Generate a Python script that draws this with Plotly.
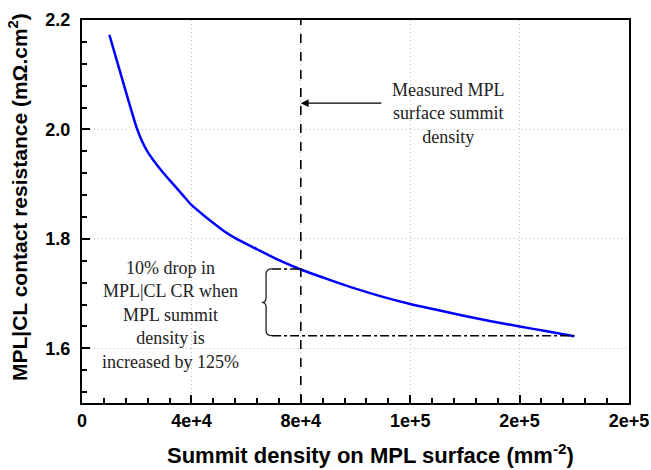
import plotly.graph_objects as go

# ---- data ----
summit_density = [10000, 12500, 15000, 17500, 20000, 22000, 24000, 26500, 30000, 33500,
                  37000, 40000, 44000, 48000, 52000, 56500, 64000, 72000, 80000, 90000,
                  100000, 110000, 120000, 130000, 140000, 150000, 160000, 170000, 180000]
contact_resistance = [2.173, 2.130, 2.087, 2.044, 2.003, 1.978, 1.959, 1.941, 1.919, 1.899,
                      1.879, 1.862, 1.845, 1.829, 1.814, 1.800, 1.781, 1.761, 1.744, 1.726,
                      1.709, 1.694, 1.681, 1.670, 1.659, 1.649, 1.640, 1.631, 1.622]

x_tickvals = [0, 40000, 80000, 120000, 160000, 200000]
x_ticktext = ["0", "4e+4", "8e+4", "1e+5", "2e+5", "2e+5"]
y_tickvals = [1.6, 1.8, 2.0, 2.2]
y_ticktext = ["1.6", "1.8", "2.0", "2.2"]

measured_density = 80000
cr_measured = 1.745
cr_end = contact_resistance[-1] + 0.001
density_end = summit_density[-1]

# brace location (data units)
brace_stem_x = 67300
brace_tip_x = 65800
brace_end_x = 69500

serif = "Liberation Serif"
sans = "Liberation Sans"

fig = go.Figure()
fig.add_trace(go.Scatter(x=summit_density, y=contact_resistance, mode="lines",
                         line=dict(color="#0000ff", width=2.5, shape="spline", smoothing=0.6),
                         showlegend=False, hoverinfo="skip"))

shapes = []
shapes.append(dict(type="line", xref="x", yref="paper", x0=measured_density, x1=measured_density,
                   y0=0, y1=1, line=dict(color="black", width=1.6, dash="dash")))
shapes.append(dict(type="line", xref="x", yref="y", x0=brace_end_x, x1=measured_density,
                   y0=cr_measured, y1=cr_measured, line=dict(color="black", width=1.6, dash="dashdot")))
shapes.append(dict(type="line", xref="x", yref="y", x0=brace_end_x, x1=density_end,
                   y0=cr_end, y1=cr_end, line=dict(color="black", width=1.6, dash="dashdot")))
ym = (cr_measured + cr_end) / 2
r = 0.009
path = (f"M {brace_end_x},{cr_measured} Q {brace_stem_x},{cr_measured} {brace_stem_x},{cr_measured - r} "
        f"L {brace_stem_x},{ym + r} Q {brace_stem_x},{ym} {brace_tip_x},{ym} "
        f"Q {brace_stem_x},{ym} {brace_stem_x},{ym - r} "
        f"L {brace_stem_x},{cr_end + r} Q {brace_stem_x},{cr_end} {brace_end_x},{cr_end}")
shapes.append(dict(type="path", xref="x", yref="y", path=path, line=dict(color="#222", width=1.3)))

annotations = []
annotations.append(dict(x=measured_density, y=2.048, ax=110000, ay=2.048, xref="x", yref="y",
                        axref="x", ayref="y", text="", showarrow=True, arrowhead=2,
                        arrowsize=1.2, arrowwidth=1.3, arrowcolor="black"))
annotations.append(dict(x=134000, y=2.030, xref="x", yref="y", showarrow=False,
                        text="Measured MPL<br>surface summit<br>density",
                        font=dict(family=serif, size=18, color="#222"), align="center"))
annotations.append(dict(x=32200, y=1.661, xref="x", yref="y", showarrow=False,
                        text="10% drop in<br>MPL|CL CR when<br>MPL summit<br>density is<br>increased by 125%",
                        font=dict(family=serif, size=18, color="#222"), align="center"))

L, R, T, B = 82, 22, 20, 67
W, H = 651, 470
pw, ph = W - L - R, H - T - B

def px_to_paper(xp, yp):
    return (xp - L) / pw, 1 - (yp - T) / ph

tx, ty = px_to_paper(370, 454)
annotations.append(dict(x=tx, y=ty, xref="paper", yref="paper", showarrow=False,
                        xanchor="center", yanchor="middle",
                        text="Summit density on MPL surface (mm<sup>-2</sup>)",
                        font=dict(family=sans, size=22, color="black", weight="bold")))
tx, ty = px_to_paper(18, 197)
annotations.append(dict(x=tx, y=ty, xref="paper", yref="paper", showarrow=False,
                        xanchor="center", yanchor="middle",
                        text="MPL|CL contact resistance (mΩ.cm<sup>2</sup>)", textangle=-90,
                        font=dict(family=sans, size=21, color="black", weight="bold")))

fig.update_layout(
    width=W, height=H, margin=dict(l=L, r=R, t=T, b=B, autoexpand=False),
    plot_bgcolor="white", paper_bgcolor="white",
    shapes=shapes, annotations=annotations, showlegend=False,
)
common = dict(ticks="inside", ticklen=8, tickwidth=2, tickcolor="black",
              showline=True, linecolor="black", linewidth=2, mirror=True,
              showgrid=True, gridcolor="#c0c0c0", griddash="1px,3px", gridwidth=1,
              zeroline=False, automargin=False,
              tickfont=dict(family=sans, size=18, color="black", weight="bold"))
fig.update_xaxes(range=[0, 200000], tickvals=x_tickvals, ticktext=x_ticktext,
                 minor=dict(dtick=8000, tick0=0, ticks="inside", ticklen=5, tickwidth=1.5,
                            tickcolor="black", showgrid=False),
                 ticklabelstandoff=0, **common)
fig.update_yaxes(range=[1.5, 2.2], tickvals=y_tickvals, ticktext=y_ticktext,
                 minor=dict(dtick=0.04, tick0=1.52, ticks="inside", ticklen=5, tickwidth=1.5,
                            tickcolor="black", showgrid=False),
                 ticklabelstandoff=6, **common)

fig.write_html("out.html", config={"displayModeBar": False},
               post_script="document.body.style.margin='0px';document.body.style.overflow='hidden';")
